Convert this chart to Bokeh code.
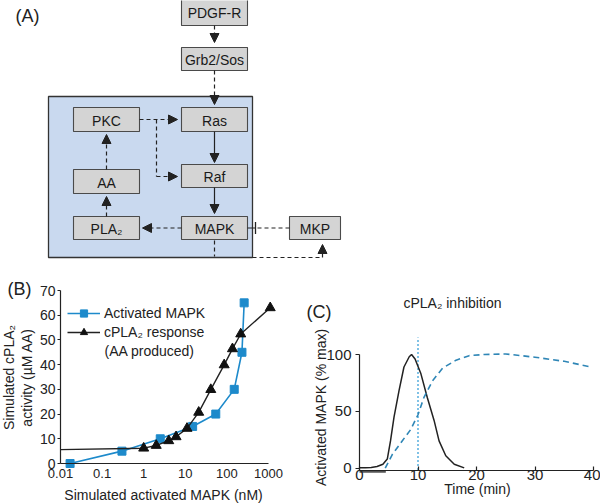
import math
from bokeh.plotting import figure
from bokeh.models import (Range1d, Arrow, NormalHead, TeeHead, Label, Legend, LegendItem,
                          FixedTicker, LogTickFormatter, LinearAxis, LogAxis, LogScale)
from bokeh.core.properties import value
from bokeh.embed import file_html
from bokeh.resources import INLINE

FONT = "Liberation Sans"
INK = "#222222"
W, H = 600, 504

# ---------------- Panel A: pathway diagram ----------------
node_names = ["PDGF-R", "Grb2/Sos", "PKC", "Ras", "Raf", "AA", "PLA₂", "MAPK", "MKP"]

# ---------------- Panel B: dose response ----------------
mapk_nM = [0.017, 0.3, 2.5, 15, 54, 150, 230, 260]
mapk_act = [0, 5, 10, 15, 20, 30, 45, 65]
pla2_nM = [1, 2, 4, 6, 11, 21, 41, 86, 136, 215, 1100]
pla2_aa = [6.2, 7.3, 9.2, 10.8, 14.2, 20.7, 29.9, 39.9, 46.4, 52.4, 63]
pla2_curve_start = (0.01, 5.6)
b_xticks = [0.01, 0.1, 1, 10, 100, 1000]
b_xtick_labels = ["0.01", "0.1", "1", "10", "100", "1000"]
b_yticks = [0, 10, 20, 30, 40, 50, 60, 70]

# ---------------- Panel C: time course ----------------
t_ctrl = [0, 1, 2, 3, 4, 4.75, 5.3, 5.9, 6.75, 7.6, 8.5, 8.9, 9.5, 10.5, 11.6, 12.75, 13.6, 14.75, 16.2, 17.9]
mapk_ctrl = [0.5, 0.5, 0.7, 1.5, 3.5, 8, 24, 45, 68, 89, 98, 100, 96, 83, 62, 42, 24, 11, 3.5, 0.3]
t_inh = [4.4, 5.6, 7.3, 8.75, 10, 11, 12.5, 14.2, 16.5, 18.75, 21.3, 25, 30, 35, 39.6]
mapk_inh = [0, 12, 24, 34, 47, 62, 77, 88, 95, 99, 100, 100.5, 97.6, 94, 89]
inhibitor_time = 10
stimulus = (0, 4.5)
c_xticks = [0, 10, 20, 30, 40]
c_yticks = [0, 50, 100]

# ---------------- layout helpers (pixel anchors of each panel) ----------------
def lin_range(px0, v0, px1, v1, lo_px, hi_px):
    k = (v1 - v0) / (px1 - px0)
    return Range1d(v0 + (lo_px - px0) * k, v0 + (hi_px - px0) * k)

def log_range(px0, v0, px1, v1, lo_px, hi_px):
    a, b = math.log10(v0), math.log10(v1)
    k = (b - a) / (px1 - px0)
    return Range1d(10 ** (a + (lo_px - px0) * k), 10 ** (a + (hi_px - px0) * k))

p = figure(width=W, height=H, x_range=Range1d(0, W), y_range=Range1d(H, 0),
           output_backend="svg", toolbar_location=None, x_axis_type=None, y_axis_type=None,
           min_border_left=0, min_border_right=0, min_border_top=0, min_border_bottom=0)
p.outline_line_color = None
p.xgrid.visible = False
p.ygrid.visible = False
p.extra_x_scales = {"bx": LogScale()}
p.extra_x_ranges = {"bx": log_range(60, 0.01, 268, 1000, 0, W),
                    "cx": lin_range(359, 0, 593, 40, 0, W)}
# y: frame bottom is pixel H, top is pixel 0
p.extra_y_ranges = {"by": lin_range(463, 0, 290, 70, H, 0),
                    "cy": lin_range(467.7, 0, 354, 100, H, 0)}

# ---- A: boxes ----
node_boxes = {
    "PDGF-R": (181, -2, 247, 25),
    "Grb2/Sos": (181, 47, 247, 70),
    "PKC": (73, 107, 139, 131),
    "Ras": (181, 107, 247, 131),
    "Raf": (181, 164, 247, 187),
    "AA": (73, 169, 139, 193),
    "PLA₂": (73, 216, 139, 239),
    "MAPK": (181, 216, 247, 239),
    "MKP": (289, 216, 340, 239),
}
module_box = (48, 96, 252, 257)
p.quad(left=[module_box[0]], right=[module_box[2]], top=[module_box[1]], bottom=[module_box[3]],
       fill_color="#c9d9ef", line_color="#333333", line_width=1.3)
lefts = [node_boxes[n][0] for n in node_names]
tops = [node_boxes[n][1] for n in node_names]
rights = [node_boxes[n][2] for n in node_names]
bottoms = [node_boxes[n][3] for n in node_names]
p.quad(left=lefts, right=rights, top=tops, bottom=bottoms,
       fill_color="#d4d4d4", line_color="#4a4a4a", line_width=1.1)
p.text(x=[(l + r) / 2 for l, r in zip(lefts, rights)],
       y=[(t + b) / 2 + 1 for t, b in zip(tops, bottoms)],
       text=node_names, text_align="center", text_baseline="middle",
       text_font=value(FONT), text_font_size="14px", text_color="#1a1a1a")

def head():
    return NormalHead(size=9, fill_color=INK, line_color=INK, line_width=1)

dash = "4 3"
arrows = [
    ((214, 25), (214, 42), dash),
    ((214, 70), (214, 104), dash),
    ((214, 131), (214, 162), "solid"),
    ((214, 187), (214, 213), "solid"),
    ((181, 227.5), (142, 227.5), dash),
    ((106, 216), (106, 196), dash),
    ((106, 169), (106, 134), dash),
    ((139, 119), (177, 119), dash),
    ((156, 176), (177, 176), dash),
    ((322, 257), (322, 244), dash),
]
for (x0, y0), (x1, y1), d in arrows:
    p.add_layout(Arrow(end=head(), x_start=x0, y_start=y0, x_end=x1, y_end=y1,
                       line_color=INK, line_width=1.2, line_dash=d))
p.segment(x0=[156, 214, 252], y0=[119, 240, 257], x1=[156, 214, 322], y1=[176, 256, 257],
          line_color=INK, line_width=1.2, line_dash=dash)
p.add_layout(Arrow(end=TeeHead(size=12, line_color=INK, line_width=1.3),
                   x_start=289, y_start=227.5, x_end=255, y_end=227.5,
                   line_color=INK, line_width=1.2, line_dash=dash))
p.segment(x0=[247], y0=[227.5], x1=[255], y1=[227.5], line_color=INK, line_width=1.2)

# ---- B ----
BLUE = "#1d8acb"
bl = p.line(mapk_nM, mapk_act, line_color=BLUE, line_width=1.6, x_range_name="bx", y_range_name="by")
bs = p.scatter(mapk_nM, mapk_act, marker="square", size=8, fill_color=BLUE, line_color=BLUE,
               x_range_name="bx", y_range_name="by")
kl = p.line([pla2_curve_start[0]] + pla2_nM, [pla2_curve_start[1]] + pla2_aa,
            line_color=INK, line_width=1.4, x_range_name="bx", y_range_name="by")
ks = p.scatter(pla2_nM, pla2_aa, marker="triangle", size=10, fill_color="#111111",
               line_color="#111111", x_range_name="bx", y_range_name="by")

def style_axis(ax, size):
    ax.axis_line_color = INK
    ax.axis_line_width = 1.2
    ax.major_tick_line_color = INK
    ax.major_tick_line_width = 1.2
    ax.minor_tick_line_color = None
    ax.major_label_text_font = FONT
    ax.major_label_text_font_size = size
    ax.major_label_text_color = INK

bxa = LogAxis(x_range_name="bx", y_range_name="by", fixed_location=0,
              ticker=FixedTicker(ticks=b_xticks), bounds=(0.01, 1000),
              formatter=LogTickFormatter(min_exponent=4),
              major_tick_out=0, major_tick_in=0, major_label_standoff=5)
bxa.major_label_overrides = {float(t): s for t, s in zip(b_xticks, b_xtick_labels)}
style_axis(bxa, "13px")
p.add_layout(bxa, "below")
bya = LinearAxis(x_range_name="bx", y_range_name="by", fixed_location=0.01,
                 ticker=FixedTicker(ticks=b_yticks), bounds=(0, 70),
                 major_tick_out=3, major_tick_in=0, major_label_standoff=2)
style_axis(bya, "14px")
p.add_layout(bya, "left")

legB = Legend(items=[LegendItem(label="Activated MAPK", renderers=[bl, bs]),
                     LegendItem(label="cPLA₂ response", renderers=[kl, ks])],
              location=(67, H - 341), glyph_width=33, glyph_height=18, label_height=18,
              label_standoff=4, spacing=1, padding=0, margin=0,
              border_line_color=None, background_fill_alpha=0,
              label_text_font=FONT, label_text_font_size="14px", label_text_color=INK)
p.add_layout(legB)

# ---- C ----
TEAL = "#2f86b6"
p.segment(x0=[stimulus[0]], y0=[-2.9], x1=[stimulus[1]], y1=[-2.9], line_color="#555555",
          line_width=2.5, x_range_name="cx", y_range_name="cy")
p.segment(x0=[inhibitor_time], y0=[-1.6], x1=[inhibitor_time], y1=[115], line_color="#2e9ad6",
          line_width=1.2, line_dash="2 2", x_range_name="cx", y_range_name="cy")
p.line(t_ctrl, mapk_ctrl, line_color=INK, line_width=1.5, x_range_name="cx", y_range_name="cy")
p.line(t_inh, mapk_inh, line_color=TEAL, line_width=1.6, line_dash="6 4",
       x_range_name="cx", y_range_name="cy")

cxa = LinearAxis(x_range_name="cx", y_range_name="cy", fixed_location=-1.6,
                 ticker=FixedTicker(ticks=c_xticks), bounds=(0, 40),
                 major_tick_out=0, major_tick_in=4, major_label_standoff=0)
style_axis(cxa, "15px")
p.add_layout(cxa, "below")
cya = LinearAxis(x_range_name="cx", y_range_name="cy", fixed_location=0,
                 ticker=FixedTicker(ticks=c_yticks), bounds=(-1.6, 100),
                 major_tick_out=4, major_tick_in=0, major_label_standoff=4)
style_axis(cya, "15px")
p.add_layout(cya, "left")

# ---- texts ----
def label(x, y, text, size="14px", align="left", angle=0.0):
    p.add_layout(Label(x=x, y=y, text=text, text_font=FONT, text_font_size=size,
                       text_align=align, text_baseline="middle", angle=angle, text_color=INK))

UP = math.pi / 2  # y axis of the canvas runs downward, so this reads bottom-to-top
label(15, 15.5, "(A)", "18px")
label(7, 288.5, "(B)", "18px")
label(306, 311.5, "(C)", "18px")
label(8.5, 377, "Simulated cPLA₂", align="center", angle=UP)
label(26.5, 377, "activity (µM AA)", align="center", angle=UP)
label(163, 494, "Simulated activated MAPK (nM)", align="center")
label(104, 350, "(AA produced)")
label(452, 302, "cPLA₂ inhibition", align="center")
label(320, 407, "Activated MAPK (% max)", align="center", angle=UP)
label(477, 488, "Time (min)", align="center")

open("out.html", "w").write(file_html(p, INLINE))
